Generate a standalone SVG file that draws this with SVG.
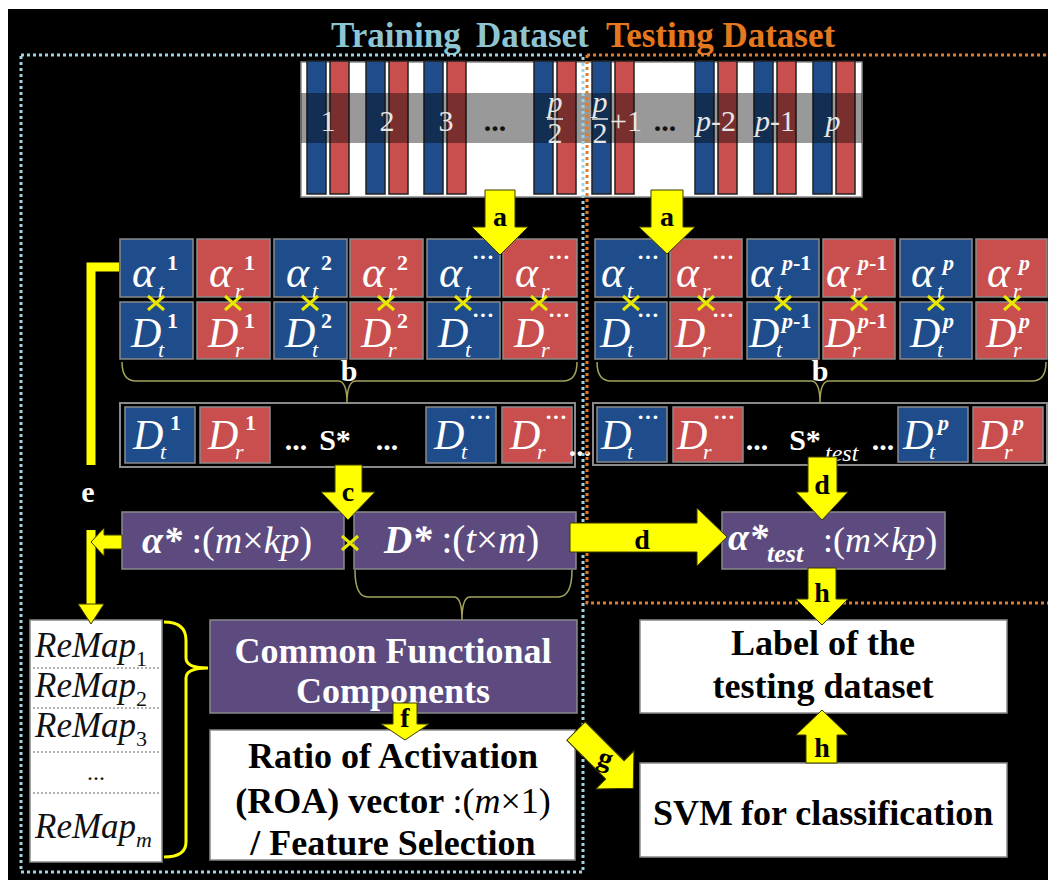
<svg xmlns="http://www.w3.org/2000/svg" xmlns:xlink="http://www.w3.org/1999/xlink" width="1048" height="880" viewBox="0 0 1048 880">
<style>
text{font-family:"Liberation Serif","Times New Roman",serif}
.bl{fill:#1f4d8b;stroke:#8a8a8a;stroke-width:1.5}
.rd{fill:#c84f4e;stroke:#8a8a8a;stroke-width:1.5}
.bb{fill:#1f4d8b;stroke:#222;stroke-width:1.5}
.br{fill:#c84f4e;stroke:#222;stroke-width:1.5}
.pu{fill:#5d4b80;stroke:#8a8a8a;stroke-width:1.5}
.wb{fill:#fff;stroke:#8a8a8a;stroke-width:1.5}
.fr{fill:#000;stroke:#8a8a8a;stroke-width:2}
.arr{fill:#ffff00;stroke:#3a3a00;stroke-width:1}
.lab{font-weight:bold;font-size:28px;fill:#000;text-anchor:middle}
.wl{font-weight:bold;font-size:30px;fill:#fff;text-anchor:middle}
.sym{fill:#fff;font-style:italic;font-size:44px}
.dd{fill:#fff;font-style:italic;font-size:42px}
.sub{fill:#fff;font-style:italic;font-size:22px}
.sup{fill:#fff;font-weight:bold;font-size:22px}
.num{fill:#e6e6e6;font-size:30px}
.dots{fill:#111;font-weight:bold;font-size:30px;text-anchor:middle}
.xm{stroke:#e8e800;stroke-width:3;fill:none}
.brace{fill:none;stroke:#a3a35c;stroke-width:1.5}
.big{font-weight:bold;font-size:36px}
.mid{text-anchor:middle}
.rm{font-style:italic;font-size:35px;fill:#111}
.rms{font-size:22px;fill:#111}
.cyan{fill:none;stroke:#9fd3df;stroke-width:3;stroke-dasharray:3 3}
.orng{fill:none;stroke:#e07b2a;stroke-width:3;stroke-dasharray:3 3}
</style>
<defs>
<path id="xm" class="xm" d="M-8,-7L8,7M-8,7L8,-7"/>
</defs>
<rect x="0" y="0" width="1048" height="880" fill="#fff"/>
<rect x="8" y="9" width="1040" height="871" fill="#000"/>

<g id="titles">
<text x="331" y="47" font-size="35" font-weight="bold" fill="#8ec5d3">Training</text>
<text x="476" y="47" font-size="35" font-weight="bold" fill="#8ec5d3">Dataset</text>
<text x="606" y="47" font-size="35" font-weight="bold" fill="#e5781e">Testing Dataset</text>
</g>

<g id="dataset">
<rect class="wb" x="301" y="62" width="561" height="135"/>
<rect class="bb" x="307" y="61" width="19" height="133"/><rect class="br" x="330" y="61" width="19" height="133"/>
<rect class="bb" x="366" y="61" width="19" height="133"/><rect class="br" x="389" y="61" width="19" height="133"/>
<rect class="bb" x="424" y="61" width="19" height="133"/><rect class="br" x="447" y="61" width="19" height="133"/>
<rect class="bb" x="534" y="61" width="19" height="133"/><rect class="br" x="557" y="61" width="19" height="133"/>
<rect class="bb" x="592" y="61" width="19" height="133"/><rect class="br" x="615" y="61" width="19" height="133"/>
<rect class="bb" x="695" y="61" width="19" height="133"/><rect class="br" x="718" y="61" width="19" height="133"/>
<rect class="bb" x="754" y="61" width="19" height="133"/><rect class="br" x="777" y="61" width="19" height="133"/>
<rect class="bb" x="813" y="61" width="19" height="133"/><rect class="br" x="836" y="61" width="19" height="133"/>
<rect x="301" y="93" width="561" height="50" fill="#000" fill-opacity="0.4"/>
<text class="num" x="328" y="131" text-anchor="middle">1</text>
<text class="num" x="387" y="131" text-anchor="middle">2</text>
<text class="num" x="446" y="131" text-anchor="middle">3</text>
<text class="dots" x="495" y="131">...</text>
<text class="num" x="555" y="112" text-anchor="middle" font-style="italic" font-size="28">p</text>
<line x1="547" y1="119" x2="563" y2="119" stroke="#e6e6e6" stroke-width="1.5"/>
<text class="num" x="555" y="143" text-anchor="middle" font-size="28">2</text>
<text class="num" x="600" y="112" text-anchor="middle" font-style="italic" font-size="28">p</text>
<line x1="592" y1="119" x2="608" y2="119" stroke="#e6e6e6" stroke-width="1.5"/>
<text class="num" x="600" y="143" text-anchor="middle" font-size="28">2</text>
<text class="num" x="610" y="131">+1</text>
<text class="dots" x="665" y="131">...</text>
<text class="num" x="716" y="131" text-anchor="middle"><tspan font-style="italic">p</tspan>-2</text>
<text class="num" x="775" y="131" text-anchor="middle"><tspan font-style="italic">p</tspan>-1</text>
<text class="num" x="833" y="131" text-anchor="middle" font-style="italic">p</text>
</g>

<g id="coef-train">
<g id="b1"><rect class="bl" x="120" y="239" width="73" height="58"/><rect class="bl" x="120" y="302" width="73" height="57"/>
<text class="sym" x="132" y="287">α</text><text class="sub" x="158" y="298">t</text><text class="sup" x="167" y="270">1</text>
<text class="dd" x="131" y="347">D</text><text class="sub" x="158" y="357">t</text><text class="sup" x="167" y="328">1</text></g>
<g id="b2"><rect class="rd" x="197" y="239" width="73" height="58"/><rect class="rd" x="197" y="302" width="73" height="57"/>
<text class="sym" x="209" y="287">α</text><text class="sub" x="235" y="298">r</text><text class="sup" x="244" y="270">1</text>
<text class="dd" x="208" y="347">D</text><text class="sub" x="235" y="357">r</text><text class="sup" x="244" y="328">1</text></g>
<g id="b3"><rect class="bl" x="274" y="239" width="73" height="58"/><rect class="bl" x="274" y="302" width="73" height="57"/>
<text class="sym" x="286" y="287">α</text><text class="sub" x="312" y="298">t</text><text class="sup" x="321" y="270">2</text>
<text class="dd" x="285" y="347">D</text><text class="sub" x="312" y="357">t</text><text class="sup" x="321" y="328">2</text></g>
<g id="b4"><rect class="rd" x="350" y="239" width="73" height="58"/><rect class="rd" x="350" y="302" width="73" height="57"/>
<text class="sym" x="362" y="287">α</text><text class="sub" x="388" y="298">r</text><text class="sup" x="397" y="270">2</text>
<text class="dd" x="361" y="347">D</text><text class="sub" x="388" y="357">r</text><text class="sup" x="397" y="328">2</text></g>
<g id="b5"><rect class="bl" x="427" y="239" width="73" height="58"/><rect class="bl" x="427" y="302" width="73" height="57"/>
<text class="sym" x="439" y="287">α</text><text class="sub" x="465" y="298">t</text><text class="sup" x="472" y="264">···</text>
<text class="dd" x="438" y="347">D</text><text class="sub" x="465" y="357">t</text><text class="sup" x="472" y="322">···</text></g>
<g id="b6"><rect class="rd" x="503" y="239" width="74" height="58"/><rect class="rd" x="503" y="302" width="74" height="57"/>
<text class="sym" x="515" y="287">α</text><text class="sub" x="541" y="298">r</text><text class="sup" x="548" y="264">···</text>
<text class="dd" x="514" y="347">D</text><text class="sub" x="541" y="357">r</text><text class="sup" x="548" y="322">···</text></g>
<use href="#xm" x="156" y="303"/><use href="#xm" x="233" y="303"/><use href="#xm" x="310" y="303"/>
<use href="#xm" x="386" y="303"/><use href="#xm" x="463" y="303"/><use href="#xm" x="539" y="303"/>
</g>

<g id="coef-test">
<g id="c1"><rect class="bl" x="595" y="239" width="72" height="58"/><rect class="bl" x="595" y="302" width="72" height="57"/>
<text class="sym" x="601" y="287">α</text><text class="sub" x="627" y="298">t</text><text class="sup" x="637" y="264">···</text>
<text class="dd" x="600" y="347">D</text><text class="sub" x="627" y="357">t</text><text class="sup" x="637" y="322">···</text></g>
<g id="c2"><rect class="rd" x="670" y="239" width="72" height="58"/><rect class="rd" x="670" y="302" width="72" height="57"/>
<text class="sym" x="676" y="287">α</text><text class="sub" x="702" y="298">r</text><text class="sup" x="712" y="264">···</text>
<text class="dd" x="675" y="347">D</text><text class="sub" x="702" y="357">r</text><text class="sup" x="712" y="322">···</text></g>
<g id="c3"><rect class="bl" x="747" y="239" width="72" height="58"/><rect class="bl" x="747" y="302" width="72" height="57"/>
<text class="sym" x="750" y="287">α</text><text class="sub" x="776" y="298">t</text><text class="sup" x="782" y="270"><tspan font-style="italic">p</tspan>-1</text>
<text class="dd" x="749" y="347">D</text><text class="sub" x="776" y="357">t</text><text class="sup" x="782" y="328"><tspan font-style="italic">p</tspan>-1</text></g>
<g id="c4"><rect class="rd" x="823" y="239" width="72" height="58"/><rect class="rd" x="823" y="302" width="72" height="57"/>
<text class="sym" x="826" y="287">α</text><text class="sub" x="852" y="298">r</text><text class="sup" x="858" y="270"><tspan font-style="italic">p</tspan>-1</text>
<text class="dd" x="825" y="347">D</text><text class="sub" x="852" y="357">r</text><text class="sup" x="858" y="328"><tspan font-style="italic">p</tspan>-1</text></g>
<g id="c5"><rect class="bl" x="900" y="239" width="72" height="58"/><rect class="bl" x="900" y="302" width="72" height="57"/>
<text class="sym" x="911" y="287">α</text><text class="sub" x="937" y="298">t</text><text class="sup" x="943" y="270" font-style="italic">p</text>
<text class="dd" x="910" y="347">D</text><text class="sub" x="937" y="357">t</text><text class="sup" x="943" y="328" font-style="italic">p</text></g>
<g id="c6"><rect class="rd" x="976" y="239" width="71" height="58"/><rect class="rd" x="976" y="302" width="71" height="57"/>
<text class="sym" x="987" y="287">α</text><text class="sub" x="1013" y="298">r</text><text class="sup" x="1019" y="270" font-style="italic">p</text>
<text class="dd" x="986" y="347">D</text><text class="sub" x="1013" y="357">r</text><text class="sup" x="1019" y="328" font-style="italic">p</text></g>
<use href="#xm" x="631" y="303"/><use href="#xm" x="706" y="303"/><use href="#xm" x="783" y="303"/>
<use href="#xm" x="859" y="303"/><use href="#xm" x="936" y="303"/><use href="#xm" x="1012" y="303"/>
</g>

<g id="s-train">
<rect class="fr" x="120" y="403" width="455" height="64"/>
<rect class="bl" x="125" y="407" width="70" height="56"/>
<text class="dd" x="133" y="449">D</text><text class="sub" x="160" y="459">t</text><text class="sup" x="170" y="430">1</text>
<rect class="rd" x="200" y="407" width="70" height="56"/>
<text class="dd" x="208" y="449">D</text><text class="sub" x="235" y="459">r</text><text class="sup" x="245" y="430">1</text>
<text class="wl" x="296" y="450" font-size="36">...</text>
<text class="wl" x="335" y="450" font-size="35">S*</text>
<text class="wl" x="387" y="450" font-size="36">...</text>
<rect class="bl" x="426" y="407" width="70" height="56"/>
<text class="dd" x="434" y="449">D</text><text class="sub" x="461" y="459">t</text><text class="sup" x="469" y="424">···</text>
<rect class="rd" x="502" y="407" width="70" height="56"/>
<text class="dd" x="510" y="449">D</text><text class="sub" x="537" y="459">r</text><text class="sup" x="545" y="424">···</text>
</g>
<text class="wl" x="580" y="456" font-size="32">...</text>

<g id="s-test">
<rect class="fr" x="593" y="403" width="454" height="62"/>
<rect class="bl" x="597" y="407" width="70" height="55"/>
<text class="dd" x="601" y="449">D</text><text class="sub" x="627" y="459">t</text><text class="sup" x="637" y="424">···</text>
<rect class="rd" x="673" y="407" width="70" height="55"/>
<text class="dd" x="677" y="449">D</text><text class="sub" x="703" y="459">r</text><text class="sup" x="713" y="424">···</text>
<text class="wl" x="757" y="450" font-size="36">...</text>
<text class="wl" x="805" y="450" font-size="35">S*</text>
<text x="825" y="461" font-size="24" font-style="italic" fill="#fff">test</text>
<text class="wl" x="883" y="450" font-size="36">...</text>
<rect class="bl" x="898" y="407" width="70" height="55"/>
<text class="dd" x="903" y="449">D</text><text class="sub" x="929" y="459">t</text><text class="sup" x="938" y="430" font-style="italic">p</text>
<rect class="rd" x="973" y="407" width="70" height="55"/>
<text class="dd" x="978" y="449">D</text><text class="sub" x="1004" y="459">r</text><text class="sup" x="1013" y="430" font-style="italic">p</text>
</g>

<g id="alpha-star">
<rect class="pu" x="122" y="512" width="222" height="57"/>
<text x="142" y="553" font-size="38" fill="#fff"><tspan font-weight="bold" font-style="italic">α*</tspan> :(<tspan font-style="italic">m</tspan>×<tspan font-style="italic">kp</tspan>)</text>
</g>
<g id="d-star">
<rect class="pu" x="354" y="512" width="222" height="57"/>
<text x="384" y="553" font-size="39" fill="#fff"><tspan font-weight="bold" font-style="italic">D*</tspan> :(<tspan font-style="italic">t</tspan>×<tspan font-style="italic">m</tspan>)</text>
</g>
<use href="#xm" x="350" y="543"/>
<g id="alpha-test">
<rect class="pu" x="722" y="512" width="223" height="57"/>
<text x="728" y="550" font-size="38" fill="#fff" font-weight="bold" font-style="italic">α*</text>
<text x="767" y="562" font-size="26" fill="#fff" font-weight="bold" font-style="italic">test</text>
<text x="823" y="552" font-size="36" fill="#fff">:(<tspan font-style="italic">m</tspan>×<tspan font-style="italic">kp</tspan>)</text>
</g>

<g id="cfc">
<rect class="pu" x="210" y="620" width="367" height="93"/>
<text class="big mid" x="393" y="663" fill="#fff">Common Functional</text>
<text class="big mid" x="393" y="703" fill="#fff">Components</text>
</g>
<g id="roa">
<rect class="wb" x="210" y="730" width="365" height="130"/>
<text class="big mid" x="393" y="768" fill="#000">Ratio of Activation</text>
<text class="big mid" x="393" y="813" fill="#000">(ROA) vector <tspan font-weight="normal">:(<tspan font-style="italic">m</tspan>×1)</tspan></text>
<text class="big mid" x="393" y="855" fill="#000">/ Feature Selection</text>
</g>
<g id="remap">
<rect class="wb" x="30" y="620" width="132" height="242"/>
<g stroke="#9a9a9a" stroke-width="1.5" stroke-dasharray="2 2">
<line x1="33" y1="668" x2="159" y2="668"/><line x1="33" y1="708" x2="159" y2="708"/>
<line x1="33" y1="752" x2="159" y2="752"/><line x1="33" y1="793" x2="159" y2="793"/>
</g>
<text class="rm" x="35" y="657">ReMap<tspan class="rms" font-style="normal" dy="9">1</tspan></text>
<text class="rm" x="35" y="697">ReMap<tspan class="rms" font-style="normal" dy="9">2</tspan></text>
<text class="rm" x="35" y="737">ReMap<tspan class="rms" font-style="normal" dy="9">3</tspan></text>
<text x="96" y="780" font-size="24" fill="#111" text-anchor="middle">...</text>
<text class="rm" x="35" y="838">ReMap<tspan class="rms" font-style="italic" dy="9">m</tspan></text>
</g>
<g id="label-box">
<rect class="wb" x="640" y="620" width="367" height="93"/>
<text class="big mid" x="823" y="655" fill="#000">Label of the</text>
<text class="big mid" x="823" y="698" fill="#000">testing dataset</text>
</g>
<g id="svm">
<rect class="wb" x="640" y="763" width="367" height="94"/>
<text class="big" x="653" y="825" fill="#000">SVM</text>
<text class="big" x="741" y="825" fill="#000">for classification</text>
</g>

<g id="borders">
<path class="cyan" d="M21,55H583V872H21Z"/>
<path class="orng" d="M587,55H1048M587,55V603H1048"/>
</g>

<g id="connectors">
<path class="brace" d="M122,362Q122,381 136,381H338Q347,381 347,403Q347,381 356,381H563Q577,381 577,362"/>
<path class="brace" d="M597,362Q597,381 611,381H811Q820,381 820,403Q820,381 829,381H1032Q1046,381 1046,362"/>
<path class="brace" d="M355,570Q355,597 368,597H454Q462,597 462,620Q462,597 470,597H558Q572,597 572,570"/>
<path d="M164,622Q186,622 186,640V658Q186,668 208,668Q186,668 186,678V842Q186,857 164,857" fill="none" stroke="#ffff00" stroke-width="3"/>
<path d="M119,267H91V465" fill="none" stroke="#ffff00" stroke-width="9"/>
<path d="M91,530V607" fill="none" stroke="#ffff00" stroke-width="9"/>
<polygon class="arr" points="78,604 104,604 91,624"/>
<polygon class="arr" points="122,535 104,535 104,528 91,542 104,556 104,549 122,549"/>
<polygon class="arr" points="485,190 515,190 515,227 528,227 500,255 472,227 485,227"/>
<polygon class="arr" points="651,190 683,190 683,227 695,227 667,254 639,227 651,227"/>
<polygon class="arr" points="335,465 362,465 362,492 375,492 348,520 321,492 335,492"/>
<polygon class="arr" points="808,457 837,457 837,492 848,492 822,520 796,492 808,492"/>
<polygon class="arr" points="570,523 697,523 697,508 727,537 697,566 697,552 570,552"/>
<polygon class="arr" points="808,568 836,568 836,599 848,599 822,625 796,599 808,599"/>
<polygon class="arr" points="806,763 837,763 837,735 848,735 822,710 796,735 806,735"/>
<polygon class="arr" points="393,703 417,703 417,724 429,724 405,740 381,724 393,724"/>
<g transform="translate(576,731) rotate(45)">
<polygon class="arr" points="0,-13 55,-13 55,-27 81,0 55,27 55,13 0,13"/>
</g>
<text class="lab" x="605" y="767" font-size="32" transform="rotate(20 605 760)">g</text>
<text class="lab" x="500" y="226">a</text>
<text class="lab" x="667" y="226">a</text>
<text class="wl" x="349" y="381">b</text>
<text class="wl" x="820" y="381">b</text>
<text class="lab" x="348" y="501">c</text>
<text class="lab" x="822" y="494">d</text>
<text class="lab" x="642" y="549" font-size="30">d</text>
<text class="wl" x="88" y="502">e</text>
<text class="lab" x="405" y="727">f</text>
<text class="lab" x="822" y="602">h</text>
<text class="lab" x="822" y="757">h</text>
</g>
</svg>
